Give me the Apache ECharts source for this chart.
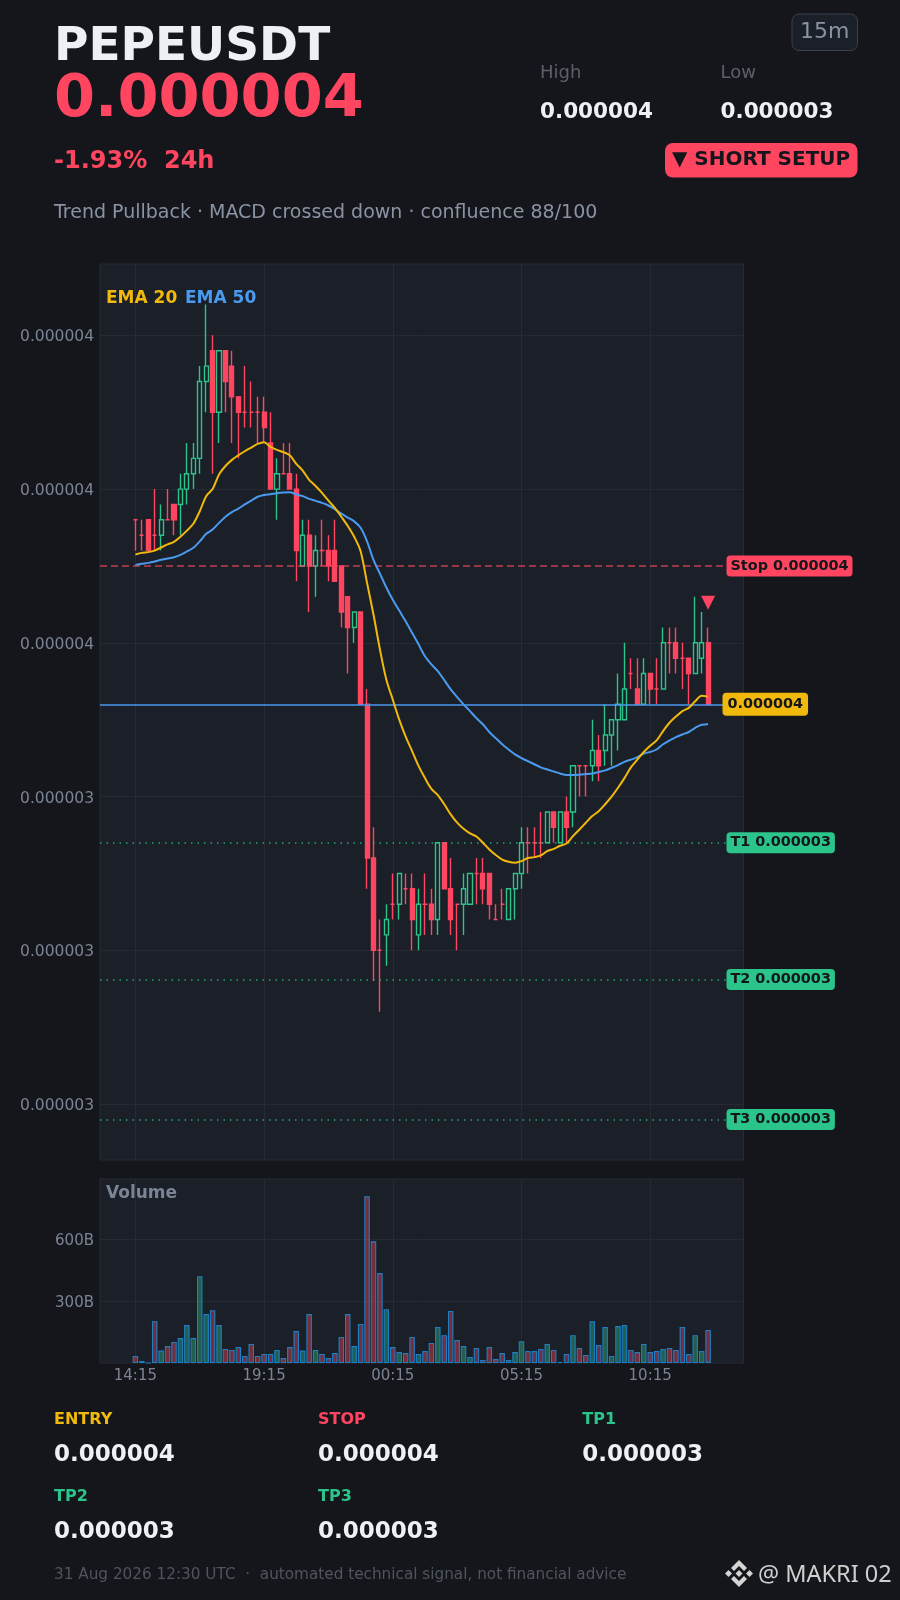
<!DOCTYPE html>
<html><head><meta charset="utf-8">
<style>html,body{margin:0;padding:0;background:#14161b}#c{width:900px;height:1600px}</style>
<script src="https://cdn.jsdelivr.net/npm/echarts@6/dist/echarts.min.js"></script>
</head><body><div id="c"></div>
<script>
const PRICE_UNIT = 1e-8; // candle values below are in units of 0.00000001
const openV  = [368,367,368,367,367,368,369,369,370,371,372,377,379,375,379,378,376,375,375,375,375,373,370,371,371,370,365,367,365,366,366,366,365,363,361,362,356,346,340,341,343,343,344,344,341,343,343,342,347,344,343,343,343,345,345,345,342,343,342,344,345,347,347,347,347,349,347,349,349,352,352,352,353,353,354,355,355,358,357,356,358,357,357,360,360,359,359,358,359,360];
const closeV = [368,367,366,367,368,368,368,370,371,372,377,378,375,379,377,376,375,375,375,375,374,370,371,371,370,366,367,365,366,366,365,364,362,361,362,356,346,340,340,342,343,345,344,342,343,343,342,347,344,342,343,344,345,345,344,343,342,343,344,345,347,347,347,347,349,348,349,348,352,352,352,353,352,354,355,356,357,358,356,358,357,357,360,360,359,359,358,360,360,356];
const highV  = [368,368,368,370,369,370,369,371,373,373,378,382,380,379,379,379,376,378,377,376,376,375,372,373,373,371,368,368,367,368,367,368,365,363,362,362,357,348,342,343,345,345,345,345,344,345,344,347,347,346,343,345,345,346,346,345,343,344,344,345,348,348,348,349,349,349,349,350,352,352,352,355,354,356,355,358,360,359,359,359,358,359,361,361,361,360,359,363,362,361];
const lowV   = [366,366,366,366,366,368,367,367,369,370,371,375,371,373,375,373,372,374,374,373,373,370,368,371,370,364,365,362,363,365,364,364,361,358,360,356,344,338,336,339,342,342,343,340,340,341,341,341,344,341,340,341,343,343,343,342,342,342,342,342,344,345,346,346,347,347,347,347,348,350,350,351,351,352,352,353,355,357,356,356,356,356,357,358,358,357,356,358,358,356];
const ema20 = [365.74,365.85,365.9,366.0,366.2,366.4,366.57,366.9,367.3,367.74,368.56,369.54,370.0,370.95,371.5,371.9,372.2,372.46,372.7,372.94,373.05,372.74,372.55,372.4,372.2,371.64,371.2,370.6,370.2,369.75,369.25,368.78,368.2,367.6,366.9,365.96,363.9,361.84,359.57,357.6,356.3,355.0,353.9,352.96,352.0,351.2,350.5,350.1,349.5,348.84,348.3,347.9,347.6,347.4,347.0,346.56,346.2,345.9,345.76,345.7,345.8,346.0,346.06,346.17,346.45,346.6,346.8,346.95,347.43,347.86,348.3,348.73,349.05,349.5,349.99,350.57,351.2,351.9,352.4,352.9,353.3,353.65,354.26,354.8,355.2,355.56,355.77,356.2,356.55,356.5];
const ema50 = [365.07,365.14,365.2,365.29,365.4,365.48,365.57,365.72,365.94,366.18,366.6,367.09,367.37,367.8,368.2,368.5,368.73,369.0,369.25,369.5,369.62,369.67,369.73,369.77,369.8,369.65,369.54,369.36,369.23,369.1,368.93,368.7,368.4,368.15,367.9,367.48,366.6,365.4,364.5,363.6,362.8,362.1,361.4,360.65,359.9,359.13,358.6,358.16,357.57,356.97,356.47,356.0,355.56,355.1,354.7,354.2,353.8,353.4,353.06,352.74,352.5,352.3,352.1,351.9,351.76,351.63,351.5,351.4,351.4,351.42,351.46,351.5,351.6,351.7,351.87,352.05,352.26,352.4,352.57,352.8,352.9,353.06,353.4,353.65,353.87,354.04,354.2,354.47,354.67,354.7];
const volumeB = [34,10,0,203,60,82,102,121,184,121,421,237,256,184,68,63,77,34,92,34,44,44,63,24,77,155,60,237,63,44,24,48,126,237,82,189,808,590,436,261,77,53,48,126,44,58,97,174,135,252,111,82,29,73,15,77,19,48,15,53,106,58,58,68,92,63,5,44,135,73,39,203,87,174,34,179,184,63,53,92,53,58,68,73,63,174,44,135,58,160];

const LEAD_BARS = 5;
const TOTAL_BARS = 100;
const xTickLabels = ['14:15','19:15','00:15','05:15','10:15'];
const categories = [];
for (let k = 0; k < TOTAL_BARS; k++) {
  const m = (13 * 60 + k * 15) % 1440;
  categories.push(String(Math.floor(m / 60)).padStart(2, '0') + ':' + String(m % 60).padStart(2, '0'));
}
const yTicks = [3.3e-6, 3.4e-6, 3.5e-6, 3.6e-6, 3.7e-6, 3.8e-6];
const yTickLabels = ['0.000003','0.000003','0.000003','0.000004','0.000004','0.000004'];
const yMin = 3.2636e-6, yMax = 3.8464e-6;
const volTicks = [300, 600];
const volMax = 892;
const stopLevel = 3.65e-6, entryLevel = 3.56e-6, tp1Level = 3.47e-6, tp2Level = 3.381e-6, tp3Level = 3.29e-6;
const signalIndex = 94, signalPrice = 3.626e-6;

const C = {bg:'#14161b', panel:'#1b1f27', grid:'#262a33', red:'#ff4560', green:'#2bc48a', gold:'#f0b90b', blue:'#4a9af0', muted:'#7b8494', text:'#eef0f4', dim:'#5a606b', sub:'#8a93a3'};
const LABEL_FONT = 'DejaVu Sans';

const isHit = (v) => xTickLabels.includes(v);
const candleData = openV.map((o, i) => [i + LEAD_BARS, o * PRICE_UNIT, closeV[i] * PRICE_UNIT, lowV[i] * PRICE_UNIT, highV[i] * PRICE_UNIT]);
const volData = volumeB.map((v, i) => ({value: [i + LEAD_BARS, v], itemStyle: {color: closeV[i] > openV[i] ? 'rgba(43,196,138,0.4)' : 'rgba(255,69,96,0.4)'}}));
const lineData = (arr) => arr.map((v, i) => [i + LEAD_BARS, v * PRICE_UNIT]);

function axisLineLabel(val, bg, off, dash, width, lineColor, fmt, pad) {
  return {yAxis: val, lineStyle: {color: lineColor, type: dash, width: width},
    label: {show: true, position: 'end', formatter: fmt, backgroundColor: bg, color: '#14161b', fontFamily: LABEL_FONT, fontWeight: 'bold', fontSize: 14.4, padding: pad || [4, 4, 3, 4], borderRadius: 4, offset: off}};
}

function txt(text, x, y, size, weight, fill, extra) {
  return {type: 'text', silent: true, z: 50, style: Object.assign({text, x, y: y + 2, fontSize: size, fontWeight: weight, fontFamily: 'DejaVu Sans', fill, textVerticalAlign: 'middle', textAlign: 'left'}, extra || {})};
}
function box(x, y, w, h, r, fill, stroke) {
  return {type: 'rect', silent: true, z: 40, shape: {x, y, width: w, height: h, r}, style: {fill, stroke: stroke || null, lineWidth: stroke ? 1 : 0}};
}
function poly(points) { return {type: 'polygon', silent: true, z: 50, shape: {points}, style: {fill: '#d4d4d4'}}; }

const graphics = [
  txt('PEPEUSDT', 54, 46, 47, 'bold', C.text),
  txt('0.000004', 54, 98.5, 59, 'bold', C.red),
  txt('-1.93%  24h', 54, 160, 24, 'bold', C.red),
  txt('Trend Pullback · MACD crossed down · confluence 88/100', 54, 211.5, 19, 'normal', C.sub),
  box(792, 14, 65.5, 36.5, 7, '#1b1f27', '#3a404c'),
  txt('15m', 824.7, 30.5, 22, 'normal', C.sub, {textAlign: 'center'}),
  txt('High', 540, 71, 18, 'normal', C.dim),
  txt('Low', 720.5, 71, 18, 'normal', C.dim),
  txt('0.000004', 540, 110, 21.5, 'bold', C.text),
  txt('0.000003', 720.5, 110, 21.5, 'bold', C.text),
  box(665, 143, 192.5, 34.5, 8, C.red),
  txt('▼ SHORT SETUP', 672, 157.5, 20, 'bold', C.bg),
  txt('EMA 20', 106, 297, 17, 'bold', C.gold),
  txt('EMA 50', 185, 297, 17, 'bold', C.blue),
  txt('Volume', 106, 1192, 17, 'bold', C.muted),
  txt('ENTRY', 54, 1418, 16, 'bold', C.gold),
  txt('0.000004', 54, 1453, 23, 'bold', C.text),
  txt('STOP', 318, 1418, 16, 'bold', C.red),
  txt('0.000004', 318, 1453, 23, 'bold', C.text),
  txt('TP1', 582.3, 1418, 16, 'bold', C.green),
  txt('0.000003', 582.3, 1453, 23, 'bold', C.text),
  txt('TP2', 54, 1495, 16, 'bold', C.green),
  txt('0.000003', 54, 1530, 23, 'bold', C.text),
  txt('TP3', 318, 1495, 16, 'bold', C.green),
  txt('0.000003', 318, 1530, 23, 'bold', C.text),
  txt('31 Aug 2026 12:30 UTC  ·  automated technical signal, not financial advice', 54, 1573, 15.25, 'normal', '#4f555f'),
  txt('@ MAKRI 02', 758, 1573, 23.5, 'normal', '#cfcfcf', {fontFamily: 'Noto Sans'}),
  poly([[739,1560],[747,1568],[744,1571],[739,1566],[734,1571],[731,1568]]),
  poly([[739,1587],[747,1579],[744,1576],[739,1581],[734,1576],[731,1579]]),
  poly([[739,1570],[742.5,1573.5],[739,1577],[735.5,1573.5]]),
  poly([[728.5,1570],[732,1573.5],[728.5,1577],[725,1573.5]]),
  poly([[749.5,1570],[753,1573.5],[749.5,1577],[746,1573.5]])
];

const chart = echarts.init(document.getElementById('c'), null, {renderer: 'canvas', width: 900, height: 1600});
const gridBase = {left: 100, width: 643.5, show: true, backgroundColor: C.panel, borderColor: C.grid, borderWidth: 1};
const tickRich = (size) => ({t: {color: C.muted, fontSize: size, fontFamily: 'DejaVu Sans', padding: [4, 0, 0, 0]}});
chart.setOption({
  animation: false,
  backgroundColor: C.bg,
  graphic: graphics,
  grid: [Object.assign({top: 264, height: 896}, gridBase), Object.assign({top: 1179, height: 184}, gridBase)],
  xAxis: [0, 1].map((g) => ({
    type: 'category', gridIndex: g, data: categories, boundaryGap: true,
    axisLine: {show: false},
    axisTick: {show: false},
    splitLine: {show: true, alignWithLabel: true, interval: (i, v) => isHit(v), lineStyle: {color: C.grid, width: 1}},
    axisLabel: {show: g === 1, interval: (i, v) => isHit(v), color: C.muted, fontSize: 15, margin: 6, fontFamily: 'DejaVu Sans'}
  })),
  yAxis: [
    {type: 'value', gridIndex: 0, min: yMin, max: yMax, scale: true, position: 'left',
     axisLine: {show: false}, axisTick: {show: false, customValues: yTicks},
     splitLine: {show: true, lineStyle: {color: C.grid, width: 1}},
     axisLabel: {show: true, customValues: yTicks, margin: 6, rich: tickRich(15.5),
       formatter: (v) => { let b = 0; yTicks.forEach((t, k) => { if (Math.abs(t - v) < Math.abs(yTicks[b] - v)) b = k; }); return '{t|' + yTickLabels[b] + '}'; }}},
    {type: 'value', gridIndex: 1, min: 0, max: volMax,
     axisLine: {show: false}, axisTick: {show: false, customValues: volTicks},
     splitLine: {show: true, lineStyle: {color: C.grid, width: 1}},
     axisLabel: {show: true, customValues: volTicks, margin: 6, rich: tickRich(15), formatter: (v) => '{t|' + v + 'B}'}}
  ],
  series: [
    {type: 'candlestick', name: 'PEPEUSDT', xAxisIndex: 0, yAxisIndex: 0, data: candleData, encode: {x: 0, y: [1, 2, 3, 4]}, barWidth: 4.6, z: 3,
     itemStyle: {color: C.panel, color0: C.red, borderColor: C.green, borderColor0: C.red, borderColorDoji: C.red, borderWidth: 1.4},
     markPoint: {silent: true, symbol: 'triangle', symbolRotate: 180, symbolSize: [14, 14], itemStyle: {color: C.red}, label: {show: false},
       data: [{coord: [signalIndex, signalPrice]}]},
     markLine: {silent: true, symbol: 'none', precision: 10, animation: false, z: 4,
       data: [
         axisLineLabel(stopLevel, C.red, [-22, 0], [7, 4], 1.5, 'rgba(255,69,96,0.75)', 'Stop 0.000004'),
         axisLineLabel(entryLevel, C.gold, [-26, 0], 'solid', 1.5, C.blue, '0.000004', [5, 5, 4, 5]),
         axisLineLabel(tp1Level, C.green, [-22, 0], [1.5, 5], 1.7, 'rgba(43,196,138,0.8)', 'T1 0.000003'),
         axisLineLabel(tp2Level, C.green, [-22, 0], [1.5, 5], 1.7, 'rgba(43,196,138,0.8)', 'T2 0.000003'),
         axisLineLabel(tp3Level, C.green, [-22, 0], [1.5, 5], 1.7, 'rgba(43,196,138,0.8)', 'T3 0.000003')
       ]}},
    {type: 'line', name: 'EMA 20', xAxisIndex: 0, yAxisIndex: 0, data: lineData(ema20), showSymbol: false, smooth: 0.3, z: 6, lineStyle: {color: C.gold, width: 2}},
    {type: 'line', name: 'EMA 50', xAxisIndex: 0, yAxisIndex: 0, data: lineData(ema50), showSymbol: false, smooth: 0.3, z: 5, lineStyle: {color: C.blue, width: 2}},
    {type: 'bar', name: 'Volume', xAxisIndex: 1, yAxisIndex: 1, data: volData, barWidth: 5.5, itemStyle: {borderColor: '#1f7ec2', borderWidth: 1.1}}
  ]
});
</script></body></html>
